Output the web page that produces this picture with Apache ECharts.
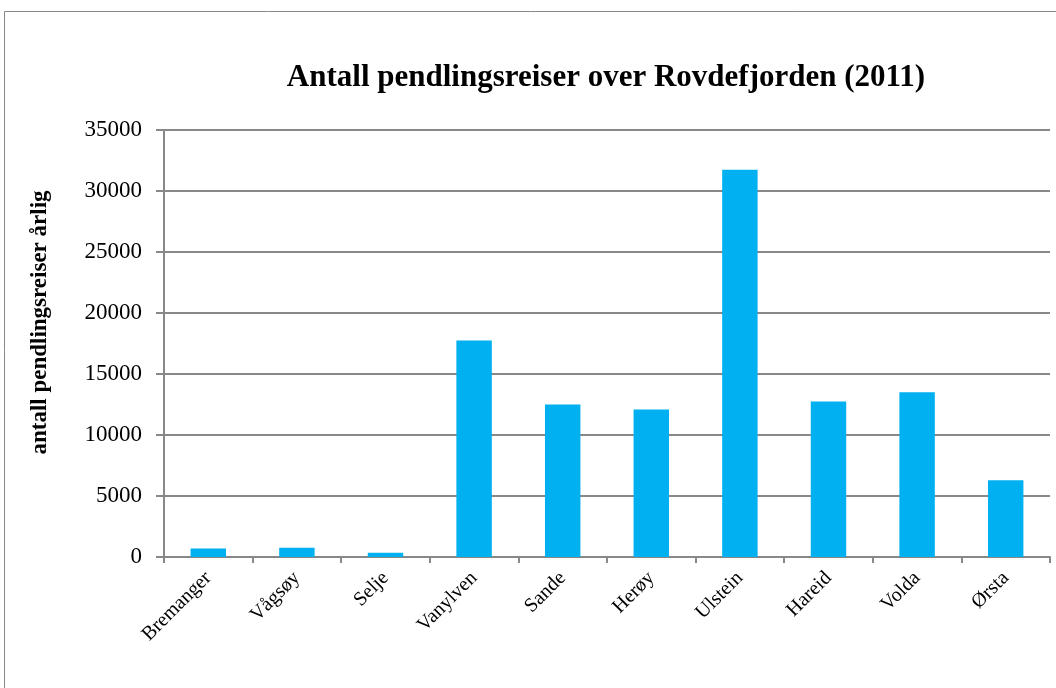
<!DOCTYPE html>
<html>
<head>
<meta charset="utf-8">
<script src="https://cdn.jsdelivr.net/npm/echarts@6/dist/echarts.min.js"></script>
<style>
  html, body { margin: 0; padding: 0; background: #fff; }
  #chart { width: 1056px; height: 688px; }
</style>
</head>
<body>
<div id="chart"></div>
<script>
var kommuner = ["Bremanger", "Vågsøy", "Selje", "Vanylven", "Sande", "Herøy", "Ulstein", "Hareid", "Volda", "Ørsta"];
var reiser = [700, 760, 350, 17750, 12500, 12100, 31750, 12750, 13500, 6300];
var tittel = "Antall pendlingsreiser over Rovdefjorden (2011)";
var yNavn = "antall pendlingsreiser årlig";

var chartDom = document.getElementById("chart");
var myChart = echarts.init(chartDom, null, { renderer: "canvas" });
var serif = "Liberation Serif";

var option = {
  animation: false,
  graphic: [
    {
      type: "rect",
      shape: { x: 4.5, y: 11.5, width: 1100, height: 800 },
      style: { fill: "none", stroke: "#888", lineWidth: 1 }
    }
  ],
  title: {
    text: tittel,
    left: 601,
    top: 57,
    textAlign: "center",
    textStyle: { fontFamily: serif, fontWeight: "bold", fontSize: 31, color: "#000" }
  },
  grid: { left: 164, right: 6, top: 130, bottom: 131 },
  xAxis: {
    type: "category",
    data: kommuner,
    axisLine: { lineStyle: { color: "#888", width: 2 } },
    axisTick: { show: true, length: 6, lineStyle: { color: "#888", width: 2 } },
    axisLabel: {
      interval: 0,
      rotate: 45,
      margin: 18,
      fontFamily: serif,
      fontSize: 20,
      color: "#000"
    }
  },
  yAxis: {
    type: "value",
    min: 0,
    max: 35000,
    interval: 5000,
    name: yNavn,
    nameLocation: "middle",
    nameGap: 112,
    nameTextStyle: {
      fontFamily: serif,
      fontWeight: "bold",
      fontSize: 23,
      color: "#000",
      padding: [0, 0, 0, 42]
    },
    axisLine: { show: true, lineStyle: { color: "#888", width: 2 } },
    axisTick: { show: true, length: 8, lineStyle: { color: "#888", width: 2 } },
    axisLabel: {
      fontFamily: serif,
      fontSize: 23,
      color: "#000",
      margin: 22,
      formatter: function (v) { return String(v); }
    },
    splitLine: { lineStyle: { color: "#888", width: 2 } }
  },
  series: [
    {
      type: "bar",
      data: reiser,
      barWidth: "40%",
      itemStyle: { color: "#00b0f0" }
    }
  ]
};
myChart.setOption(option);
</script>
</body>
</html>
